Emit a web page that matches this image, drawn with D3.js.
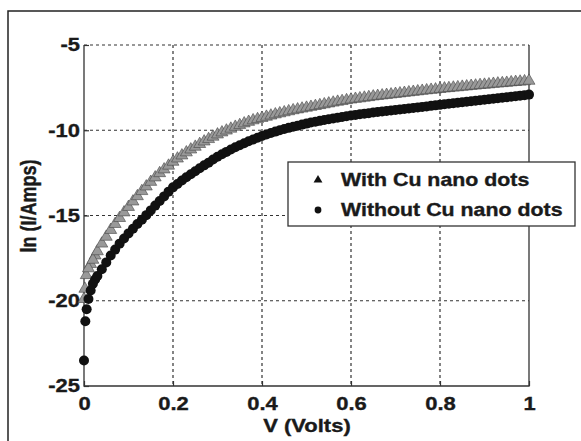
<!DOCTYPE html>
<html>
<head>
<meta charset="utf-8">
<script src="https://cdn.jsdelivr.net/npm/d3@7"></script>
<style>
  body { margin: 0; background: #fff; }
  text { font-family: "Liberation Sans", Arial, sans-serif; font-weight: bold; fill: #1a1a1a; stroke: #1a1a1a; stroke-width: 0.35px; }
</style>
</head>
<body>
<svg id="chart" width="581" height="441"></svg>
<script>
// sample voltages (V)
var volts = [0.01, 0.02, 0.03, 0.04, 0.05, 0.06, 0.07, 0.08, 0.09, 0.10,
  0.11, 0.12, 0.13, 0.14, 0.15, 0.16, 0.17, 0.18, 0.19, 0.20,
  0.21, 0.22, 0.23, 0.24, 0.25, 0.26, 0.27, 0.28, 0.29, 0.30,
  0.31, 0.32, 0.33, 0.34, 0.35, 0.36, 0.37, 0.38, 0.39, 0.40,
  0.41, 0.42, 0.43, 0.44, 0.45, 0.46, 0.47, 0.48, 0.49, 0.50,
  0.51, 0.52, 0.53, 0.54, 0.55, 0.56, 0.57, 0.58, 0.59, 0.60,
  0.61, 0.62, 0.63, 0.64, 0.65, 0.66, 0.67, 0.68, 0.69, 0.70,
  0.71, 0.72, 0.73, 0.74, 0.75, 0.76, 0.77, 0.78, 0.79, 0.80,
  0.81, 0.82, 0.83, 0.84, 0.85, 0.86, 0.87, 0.88, 0.89, 0.90,
  0.91, 0.92, 0.93, 0.94, 0.95, 0.96, 0.97, 0.98, 0.99, 1.00];

// ln(I/Amps) with Cu nano dots
var withCu = [-18.1, -17.6, -17.1, -16.65, -16.25, -15.85, -15.5, -15.15, -14.82, -14.5,
  -14.18, -13.87, -13.57, -13.3, -13.03, -12.77, -12.52, -12.3, -12.08, -11.85,
  -11.66, -11.48, -11.3, -11.13, -10.97, -10.81, -10.66, -10.52, -10.38, -10.25,
  -10.13, -10.02, -9.91, -9.8, -9.7, -9.6, -9.51, -9.42, -9.35, -9.28,
  -9.21, -9.14, -9.07, -9.01, -8.95, -8.89, -8.83, -8.78, -8.73, -8.68,
  -8.63, -8.58, -8.53, -8.48, -8.43, -8.38, -8.33, -8.29, -8.24, -8.2,
  -8.16, -8.13, -8.09, -8.06, -8.02, -7.99, -7.96, -7.93, -7.9, -7.87,
  -7.84, -7.81, -7.78, -7.75, -7.72, -7.69, -7.66, -7.63, -7.61, -7.58,
  -7.55, -7.53, -7.5, -7.48, -7.45, -7.43, -7.4, -7.38, -7.35, -7.33,
  -7.31, -7.28, -7.26, -7.24, -7.22, -7.19, -7.17, -7.15, -7.13, -7.1];

// ln(I/Amps) without Cu nano dots
var withoutCu = [-19.9, -19.0, -18.55, -18.15, -17.75, -17.35, -17.0, -16.65, -16.35, -16.05,
  -15.78, -15.5, -15.25, -14.98, -14.7, -14.42, -14.15, -13.88, -13.6, -13.35,
  -13.15, -12.95, -12.76, -12.58, -12.4, -12.23, -12.06, -11.9, -11.72, -11.55,
  -11.41, -11.27, -11.13, -11.0, -10.88, -10.76, -10.65, -10.54, -10.44, -10.34,
  -10.25, -10.16, -10.08, -10.0, -9.93, -9.86, -9.79, -9.73, -9.67, -9.61,
  -9.55, -9.5, -9.45, -9.4, -9.35, -9.31, -9.26, -9.22, -9.18, -9.14,
  -9.1, -9.06, -9.03, -9.0, -8.96, -8.93, -8.9, -8.87, -8.84, -8.81,
  -8.78, -8.75, -8.72, -8.69, -8.66, -8.63, -8.6, -8.57, -8.54, -8.51,
  -8.48, -8.45, -8.42, -8.39, -8.36, -8.33, -8.3, -8.27, -8.24, -8.21,
  -8.18, -8.15, -8.12, -8.09, -8.06, -8.03, -8.0, -7.97, -7.94, -7.91];

// extra readings taken closer together near 0 V
var withCuStartV = [0, 0.002, 0.005, 0.015, 0.025];
var withCuStart = [-19.9, -19.3, -18.5, -17.85, -17.35];
var withoutCuStartV = [0, 0.003, 0.006, 0.015, 0.025];
var withoutCuStart = [-23.5, -21.2, -20.5, -19.4, -18.75];

var xTicks = [0, 0.2, 0.4, 0.6, 0.8, 1];
var yTicks = [-25, -20, -15, -10, -5];
var seriesNames = ["With Cu nano dots", "Without Cu nano dots"];

var margin = { top: 45, right: 52, bottom: 55, left: 84 },
  width = 581 - margin.left - margin.right,
  height = 441 - margin.top - margin.bottom;

var svg = d3.select("#chart");
var stretch = 1.22;

// outer frame (cut off at right and bottom)
svg.append("rect")
  .attr("x", 8).attr("y", 11)
  .attr("width", 600).attr("height", 460)
  .style("fill", "#fff")
  .style("stroke", "#222")
  .style("stroke-width", 1.5);

var canvas = svg.append("g")
  .attr("transform", "translate(" + margin.left + "," + margin.top + ")");

var xScale = d3.scaleLinear().domain([0, 1]).range([0, width]);
var yScale = d3.scaleLinear().domain([-25, -5]).range([height, 0]);

// dashed grid
canvas.append("g").selectAll("line")
  .data(xTicks.slice(1, -1))
  .enter().append("line")
  .attr("x1", function(d) { return xScale(d); })
  .attr("x2", function(d) { return xScale(d); })
  .attr("y1", 0).attr("y2", height)
  .style("stroke", "#333").style("stroke-width", 1.2)
  .style("stroke-dasharray", "3,3");

canvas.append("g").selectAll("line")
  .data(yTicks.slice(1))
  .enter().append("line")
  .attr("x1", 0).attr("x2", width)
  .attr("y1", function(d) { return yScale(d); })
  .attr("y2", function(d) { return yScale(d); })
  .style("stroke", "#333").style("stroke-width", 1.2)
  .style("stroke-dasharray", "3,3");

// solid box sides
canvas.append("path")
  .attr("d", "M0,0V" + height + "H" + width + "V0")
  .style("fill", "none").style("stroke", "#333").style("stroke-width", 1.3);

var xAxis = d3.axisBottom(xScale)
  .tickValues(xTicks)
  .tickSize(-5)
  .tickPadding(11)
  .tickFormat(function(d) { return String(d); });

var yAxis = d3.axisLeft(yScale)
  .tickValues(yTicks)
  .tickSize(-5)
  .tickPadding(4)
  .tickFormat(function(d) { return String(d); });

var gx = canvas.append("g")
  .attr("transform", "translate(0," + height + ")")
  .call(xAxis);
var gy = canvas.append("g").call(yAxis);

[gx, gy].forEach(function(g) {
  g.select(".domain").remove();
  g.selectAll(".tick line").style("stroke", "#333").style("stroke-width", 1.2);
  g.selectAll(".tick text")
    .style("font-family", "'Liberation Sans', Arial, sans-serif")
    .style("font-weight", "bold")
    .style("font-size", "18px")
    .style("fill", "#1a1a1a");
});
gx.selectAll(".tick text").attr("transform", "scale(" + stretch + ",1)");
gy.selectAll(".tick text")
  .attr("x", -4 / stretch)
  .attr("transform", "scale(" + stretch + ",1)");

// markers
var triangle = d3.symbol().type(d3.symbolTriangle).size(62);
var withPts = withCuStartV.map(function(v, i) { return [v, withCuStart[i]]; })
  .concat(volts.map(function(v, i) { return [v, withCu[i]]; }));
var withoutPts = withoutCuStartV.map(function(v, i) { return [v, withoutCuStart[i]]; })
  .concat(volts.map(function(v, i) { return [v, withoutCu[i]]; }));

canvas.selectAll(".tri")
  .data(withPts)
  .enter().append("path")
  .attr("class", "tri")
  .attr("d", triangle)
  .attr("transform", function(d) {
    return "translate(" + xScale(d[0]) + "," + yScale(d[1]) + ")";
  })
  .style("fill", "#999")
  .style("stroke", "#444")
  .style("stroke-width", 0.6);

canvas.selectAll(".dot")
  .data(withoutPts)
  .enter().append("circle")
  .attr("class", "dot")
  .attr("r", 5)
  .attr("cx", function(d) { return xScale(d[0]); })
  .attr("cy", function(d) { return yScale(d[1]); })
  .style("fill", "#111");

// axis titles
svg.append("text")
  .attr("transform", "translate(307,432) scale(" + stretch + ",1)")
  .style("font-size", "18px")
  .style("text-anchor", "middle")
  .text("V (Volts)");

svg.append("text")
  .attr("transform", "translate(36,206) rotate(-90) scale(1," + stretch + ")")
  .style("font-size", "18px")
  .style("text-anchor", "middle")
  .text("ln (I/Amps)");

// legend
var legend = svg.append("g").attr("transform", "translate(288,162)");
legend.append("rect")
  .attr("width", 287).attr("height", 64)
  .style("fill", "#fff")
  .style("stroke", "#333")
  .style("stroke-width", 1.3);

var items = legend.selectAll(".item")
  .data(seriesNames)
  .enter().append("g")
  .attr("class", "item")
  .attr("transform", function(d, i) { return "translate(0," + (i * 30) + ")"; });

items.append("path")
  .attr("d", function(d, i) {
    return i === 0 ? d3.symbol().type(d3.symbolTriangle).size(34)() : d3.symbol().type(d3.symbolCircle).size(36)();
  })
  .attr("transform", "translate(30,18)")
  .style("fill", "#111");

items.append("text")
  .attr("transform", "translate(53,24) scale(" + stretch + ",1)")
  .style("font-size", "17.5px")
  .text(function(d) { return d; });
</script>
</body>
</html>
